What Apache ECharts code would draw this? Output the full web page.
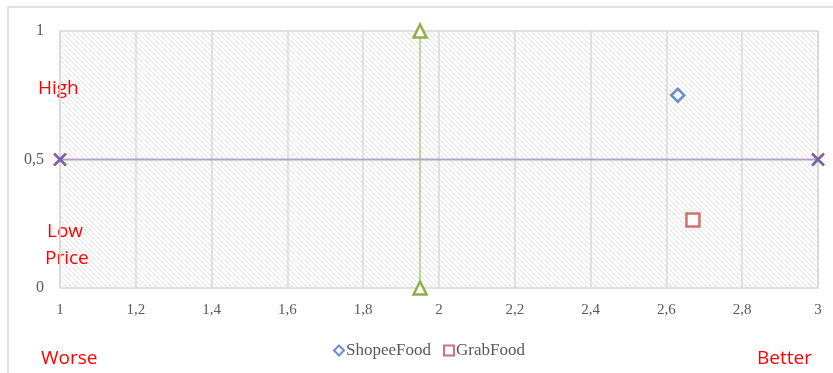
<!DOCTYPE html>
<html>
<head>
<meta charset="utf-8">
<script src="https://cdn.jsdelivr.net/npm/echarts@6/dist/echarts.min.js"></script>
<style>
  html, body { margin: 0; padding: 0; background: #fff; }
  #main { width: 833px; height: 373px; }
</style>
</head>
<body>
<div id="main"></div>
<script>
// data
var shopee = [[2.63, 0.75]];
var grab = [[2.67, 0.265]];
var qualityLine = [[1.95, 0], [1.95, 1]];
var priceLine = [[1, 0.5], [3, 0.5]];
var legendNames = ['ShopeeFood', 'GrabFood'];

// hatched plot background
var hatch = document.createElement('canvas');
hatch.width = 5;
hatch.height = 5;
var hc = hatch.getContext('2d');
hc.fillStyle = '#ffffff';
hc.fillRect(0, 0, 5, 5);
hc.strokeStyle = '#e4e4e4';
hc.lineWidth = 1;
hc.beginPath();
hc.moveTo(-1, -1); hc.lineTo(6, 6);
hc.moveTo(-1, 4); hc.lineTo(1, 6);
hc.moveTo(4, -1); hc.lineTo(6, 1);
hc.stroke();

var comma = function (v) { return String(v).replace('.', ','); };
var serif = '"Liberation Serif", "Times New Roman", serif';
var red = { fill: '#ff0000', fontSize: 19, fontFamily: '"Open Sans", "Liberation Sans", sans-serif' };

var myChart = echarts.init(document.getElementById('main'));

var option = {
    animation: false,
    grid: {
        left: 60, right: 15, top: 31, bottom: 85,
        show: true,
        backgroundColor: { image: hatch, repeat: 'repeat' },
        borderColor: '#d9d9d9',
        borderWidth: 1.5
    },
    legend: {
        data: [
            { name: legendNames[0], icon: 'diamond' },
            { name: legendNames[1], icon: 'rect' }
        ],
        left: 328, top: 337,
        itemWidth: 10, itemHeight: 10, itemGap: 12,
        textStyle: { color: '#595959', fontSize: 17, fontFamily: serif, padding: [0, 0, 0, -3] }
    },
    xAxis: {
        type: 'value', min: 1, max: 3, interval: 0.2,
        axisLine: { show: false },
        axisTick: { show: false },
        splitLine: { show: true, lineStyle: { color: '#d9d9d9', width: 1.5 } },
        axisLabel: { color: '#595959', fontSize: 15, fontFamily: serif, margin: 15, formatter: comma }
    },
    yAxis: {
        type: 'value', min: 0, max: 1, interval: 0.5,
        axisLine: { show: false },
        axisTick: { show: false },
        splitLine: { show: false },
        axisLabel: { color: '#595959', fontSize: 16, fontFamily: serif, margin: 16, formatter: comma }
    },
    graphic: [
        { type: 'line', shape: { x1: 8, y1: 7, x2: 833, y2: 7 }, style: { stroke: '#d9d9d9', lineWidth: 1.5 } },
        { type: 'line', shape: { x1: 8, y1: 7, x2: 8, y2: 373 }, style: { stroke: '#d9d9d9', lineWidth: 1.5 } },
        { type: 'text', left: 38, top: 79, style: Object.assign({ text: 'High' }, red) },
        { type: 'text', left: 47, top: 222, style: Object.assign({ text: 'Low' }, red) },
        { type: 'text', left: 45, top: 249, style: Object.assign({ text: 'Price' }, red) },
        { type: 'text', left: 41, top: 349, style: Object.assign({ text: 'Worse' }, red) },
        { type: 'text', left: 757, top: 349, style: Object.assign({ text: 'Better' }, red) }
    ],
    series: [
        {
            name: 'quality',
            type: 'line',
            data: qualityLine,
            symbol: 'triangle',
            symbolSize: 13,
            lineStyle: { color: '#c3d69b', width: 2 },
            itemStyle: { color: '#ffffff', borderColor: '#8db04a', borderWidth: 2.5 },
            z: 3
        },
        {
            name: 'price',
            type: 'line',
            data: priceLine,
            symbol: 'path://M0,0L10,10M10,0L0,10',
            symbolSize: 12,
            lineStyle: { color: '#b3a2c7', width: 2 },
            itemStyle: { color: 'transparent', borderColor: '#7b61a4', borderWidth: 2.5 },
            z: 3
        },
        {
            name: legendNames[0],
            type: 'scatter',
            data: shopee,
            symbol: 'diamond',
            symbolSize: 13,
            itemStyle: { color: '#ffffff', borderColor: '#4472c4', borderWidth: 2.5 },
            z: 4
        },
        {
            name: legendNames[1],
            type: 'scatter',
            data: grab,
            symbol: 'rect',
            symbolSize: 13,
            itemStyle: { color: '#ffffff', borderColor: '#c0504d', borderWidth: 2.5 },
            z: 4
        }
    ]
};

myChart.setOption(option);
</script>
</body>
</html>
